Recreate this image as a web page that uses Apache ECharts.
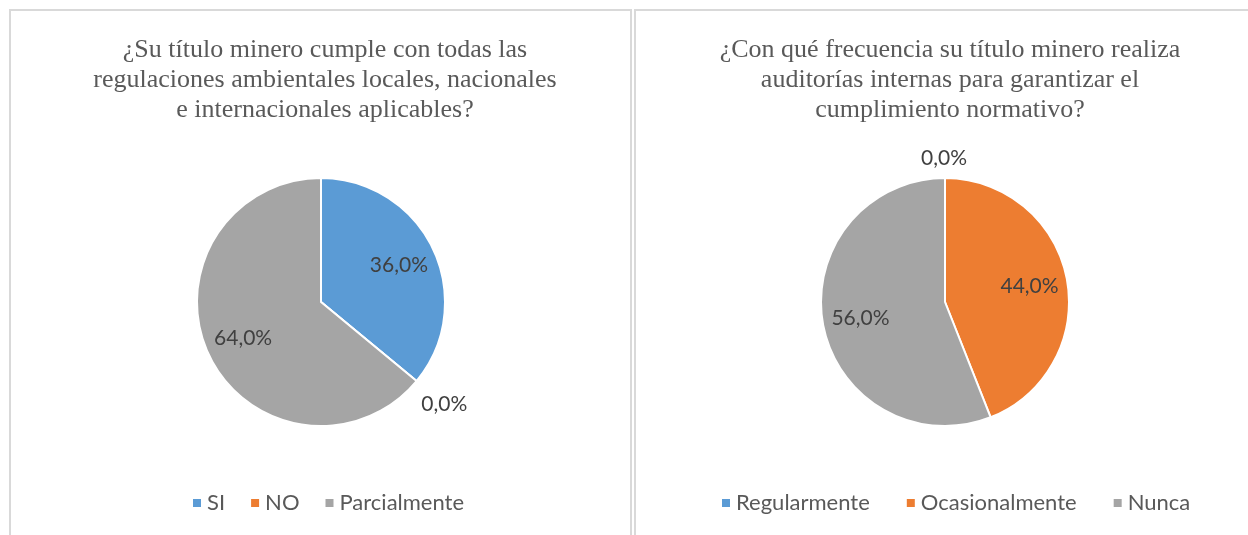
<!DOCTYPE html>
<html>
<head>
    <meta charset="utf-8">
    <title>Títulos mineros</title>
    <script src="https://cdn.jsdelivr.net/npm/echarts@6/dist/echarts.min.js"></script>
    <style>
        html, body { margin: 0; padding: 0; background: #fff; }
        #chart { width: 1248px; height: 535px; }
    </style>
</head>
<body>
    <div id="chart"></div>
    <script>
        // datos del gráfico izquierdo
        var leftTitle = '¿Su título minero cumple con todas las\nregulaciones ambientales locales, nacionales\ne internacionales aplicables?';
        var leftNames = ['SI', 'NO', 'Parcialmente'];
        var leftValues = [36.0, 0.0, 64.0];

        // datos del gráfico derecho
        var rightTitle = '¿Con qué frecuencia su título minero realiza\nauditorías internas para garantizar el\ncumplimiento normativo?';
        var rightNames = ['Regularmente', 'Ocasionalmente', 'Nunca'];
        var rightValues = [0.0, 44.0, 56.0];

        var colors = ['#5B9BD5', '#ED7D31', '#A5A5A5'];
        var labelFont = 'Lato, "Open Sans", sans-serif';
        var R = 124;

        function fmt(p) { return p.value.toFixed(1).replace('.', ',') + '%'; }

        var labelStyle = { color: '#404040', fontSize: 21, fontFamily: labelFont, formatter: fmt };

        // la serie principal: solo muestra las etiquetas de los valores 0
        function mainData(names, values, zeroOffset) {
            return names.map(function (n, i) {
                var item = { name: n, value: values[i] };
                if (values[i] === 0) {
                    item.label = { show: true, position: 'outside', offset: zeroOffset };
                    item.labelLine = { show: false, length: 14, length2: 0 };
                }
                return item;
            });
        }

        function pieSeries(center, names, values, zeroOffset) {
            return [{
                type: 'pie',
                radius: [0, R],
                center: center,
                startAngle: 90,
                clockwise: true,
                avoidLabelOverlap: false,
                color: colors,
                itemStyle: { borderColor: '#fff', borderWidth: 2 },
                label: Object.assign({ show: false }, labelStyle),
                labelLine: { show: false },
                emphasis: { disabled: true },
                data: mainData(names, values, zeroOffset)
            }, {
                // serie transparente para colocar las etiquetas interiores más afuera
                type: 'pie',
                radius: [0, R * 1.34],
                center: center,
                startAngle: 90,
                clockwise: true,
                silent: true,
                avoidLabelOverlap: false,
                itemStyle: { color: 'rgba(0,0,0,0)' },
                label: Object.assign({
                    show: true, position: 'inside'
                }, labelStyle),
                labelLine: { show: false },
                emphasis: { disabled: true },
                data: names.map(function (n, i) {
                    return { name: n, value: values[i], label: { show: values[i] !== 0 } };
                })
            }];
        }

        var chart = echarts.init(document.getElementById('chart'));
        var titleStyle = {
            color: '#595959',
            fontSize: 26,
            fontFamily: '"Liberation Serif", "Times New Roman", serif',
            fontWeight: 'normal',
            lineHeight: 30
        };
        var legendText = { color: '#595959', fontSize: 22, fontFamily: labelFont };

        chart.setOption({
            animation: false,
            graphic: [
                { type: 'rect', shape: { x: 10, y: 10, width: 621, height: 540 },
                  style: { fill: 'none', stroke: '#d9d9d9', lineWidth: 2 } },
                { type: 'rect', shape: { x: 635, y: 10, width: 640, height: 540 },
                  style: { fill: 'none', stroke: '#d9d9d9', lineWidth: 2 } }
            ],
            title: [
                { text: leftTitle, left: 320, top: 30, textAlign: 'center', textStyle: titleStyle },
                { text: rightTitle, left: 945, top: 30, textAlign: 'center', textStyle: titleStyle }
            ],
            legend: [
                {
                    data: leftNames, left: 186, top: 487, width: 440,
                    icon: 'rect', itemWidth: 10, itemHeight: 10, itemGap: 24,
                    selectedMode: false, textStyle: legendText
                },
                {
                    data: rightNames, left: 715, top: 487, width: 520,
                    icon: 'rect', itemWidth: 10, itemHeight: 10, itemGap: 35,
                    selectedMode: false, textStyle: legendText
                }
            ],
            series: pieSeries([321, 302], leftNames, leftValues, [-11, 14])
                .concat(pieSeries([945, 302], rightNames, rightValues, [27, -6]))
        });
    </script>
</body>
</html>
